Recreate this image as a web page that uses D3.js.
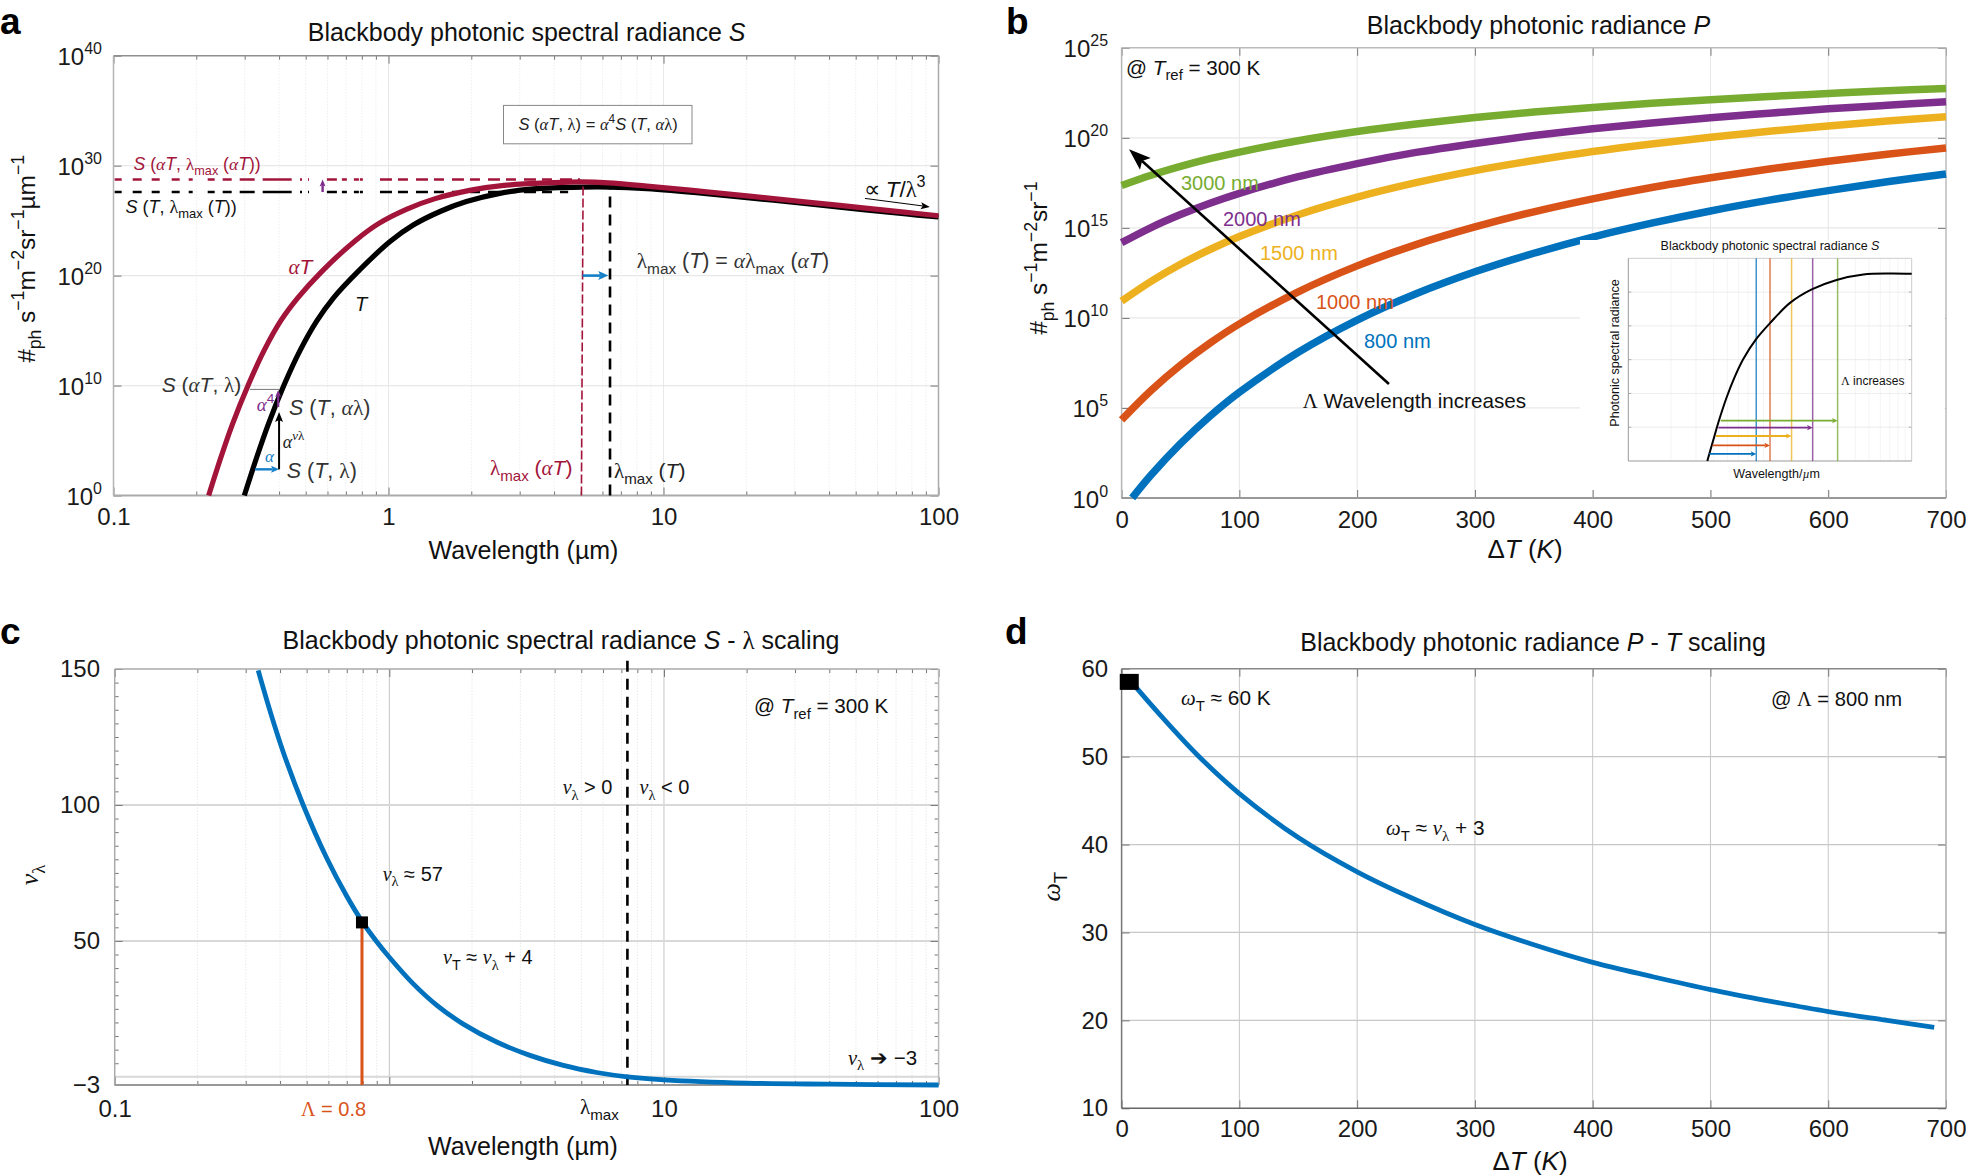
<!DOCTYPE html>
<html><head><meta charset="utf-8">
<script src="https://cdnjs.cloudflare.com/ajax/libs/d3/7.8.5/d3.min.js"></script>
<style>html,body{margin:0;padding:0;background:#fff}svg{display:block}text{font-family:"Liberation Sans",Arial,sans-serif}</style>
</head><body><svg id="c" width="1966" height="1175"></svg>
<script>
// ---------- Panel a: wavelength (um) and log10 radiance
const aBlackWave=[0.299,0.332,0.366,0.417,0.4766,0.548,0.63,0.766,1.013,1.23,1.54,1.92,2.54,3.36,5.11,6.39,8.69,14.35,25.1,43.7,76.4,100];
const aBlackLog=[0,3.5,6.52,10.05,13.18,15.86,17.96,20.25,23.1,24.6,25.83,26.73,27.48,27.88,28.05,28.05,27.9,27.45,26.85,26.23,25.6,25.33];
const aRedWave=[0.2218,0.246,0.271,0.309,0.353,0.406,0.467,0.568,0.759,0.923,1.167,1.479,1.972,2.63,3.98,5.01,6.31,8.69,14.35,25.1,43.7,76.4,100];
const aRedLog=[0,3.5,6.52,10.05,13.2,15.9,17.95,20.3,23.2,24.75,26.05,27,27.75,28.2,28.45,28.52,28.44,28.14,27.62,27,26.38,25.75,25.44];
const aXTicks=[0.1,1,10,100];
const aYTicks=[0,10,20,30,40];
const logMinor=[0.2,0.3,0.4,0.5,0.6,0.7,0.8,0.9,2,3,4,5,6,7,8,9,20,30,40,50,60,70,80,90];
// ---------- Panel b: temperature rise (K) and log10 radiance per wavelength
const dT=[0,25,50,75,100,150,200,250,300,350,400,450,500,550,600,650,700];
const bWavelengths=["3000 nm","2000 nm","1500 nm","1000 nm","800 nm"];
const b3000=[17.35,17.92,18.41,18.84,19.21,19.84,20.35,20.77,21.13,21.43,21.69,21.92,22.12,22.30,22.46,22.61,22.74];
const b2000=[14.18,15.02,15.74,16.37,16.92,17.84,18.57,19.19,19.69,20.13,20.51,20.83,21.12,21.37,21.61,21.81,22.0];
const b1500=[10.93,12.03,12.98,13.80,14.52,15.73,16.71,17.51,18.18,18.74,19.24,19.66,20.03,20.37,20.66,20.93,21.17];
const b1000=[4.34,5.97,7.38,8.60,9.67,11.45,12.89,14.07,15.05,15.89,16.61,17.24,17.78,18.27,18.70,19.09,19.44];
const b800dT=[9,25,50,75,100,150,200,250,300,350,400,450,500,550,600,650,700];
const b800=[0.01,1.28,3.02,4.54,5.87,8.09,9.88,11.34,12.56,13.59,14.49,15.26,15.94,16.54,17.07,17.56,17.99];
const bXTicks=[0,100,200,300,400,500,600,700];
const bYTicks=[0,5,10,15,20,25];
// ---------- Panel b inset
const insetWave=[0.361,0.398,0.432,0.494,0.557,0.648,0.796,1.0,1.384,1.97,2.95,4.56,7.03,10];
const insetVal=[0,3.1,5.7,9.4,12.2,15.1,18.0,20.4,23.4,25.4,26.8,27.6,27.75,27.7];
const insetLines=[0.8,1,1.42,2,3];
const insetArrowStart=[0.373,0.394,0.415,0.432,0.449];
const insetArrowLevel=[1.04,2.3,3.7,4.93,5.97];
// ---------- Panel c
const cWave=[0.333,0.368,0.411,0.486,0.592,0.70,0.795,0.90,1.0,1.22,1.49,1.86,2.46,3.25,4.3,5.69,7.36,10,20,40,100];
const cNu=[149.5,134.5,119.4,99.9,80.4,66.4,57.2,49.7,44,34.3,26.3,19.4,12.8,7.9,4.2,1.6,0,-1.1,-2.3,-2.7,-3];
const cYTicks=[-3,50,100,150];
const cGrid=[0,50,100];
const cXLabels=[0.1,10,100];
const cMarker=[0.795,56.8];
// ---------- Panel d
const dDelta=[7,35,65,100,150,200,245,300,350,400,450,500,550,600,650,690];
const dOmega=[58.7,54.4,50.1,45.8,40.8,36.9,34,30.9,28.6,26.6,25,23.5,22.2,21,20,19.2];
const dYTicks=[10,20,30,40,50,60];
const dMarker=[6.5,58.5];

const BLUE="#0072BD",ORANGE="#D95319",YELLOW="#EDB120",PURPLE="#7E2F8E",GREEN="#77AC30",RED="#A3143A";
const svg=d3.select("#c");
const F=(k)=>d3.format("")(k);

function rich(x,y,runs,o={}){
  const size=o.size||18;
  const t=svg.append("text").attr("x",x).attr("y",y).attr("font-size",size)
    .attr("fill",o.fill||"#222").attr("text-anchor",o.anchor||"start");
  if(o.rot) t.attr("transform",`rotate(${o.rot} ${x} ${y})`).attr("letter-spacing",o.ls||0);
  let off=0;
  runs.forEach(r=>{
    const [s,k="",col]=typeof r==="string"?[r]:r;
    const sp=t.append("tspan").text(s);
    let tgt=0,fs=size;
    if(k.includes("_")){tgt=size*0.28;fs=size*0.72;}
    if(k.includes("^")){tgt=-size*0.42;fs=size*0.72;}
    sp.attr("dy",tgt-off).attr("font-size",fs); off=tgt;
    if(k.includes("i")) sp.attr("font-style","italic");
    if(k.includes("g")) sp.style("font-family","'Liberation Serif',serif");
    if(col) sp.attr("fill",col);
  });
  return t;
}
function arrow(x1,y1,x2,y2,col,w,hl,hw){
  const a=Math.atan2(y2-y1,x2-x1),c=Math.cos(a),s=Math.sin(a);
  const bx=x2-c*hl*0.8,by=y2-s*hl*0.8;
  svg.append("line").attr("x1",x1).attr("y1",y1).attr("x2",bx).attr("y2",by).attr("stroke",col).attr("stroke-width",w);
  const p=[[x2,y2],[x2-c*hl-s*hw,y2-s*hl+c*hw],[bx,by],[x2-c*hl+s*hw,y2-s*hl-c*hw]];
  svg.append("path").attr("d","M"+p.join("L")+"Z").attr("fill",col);
}
function seg(x1,y1,x2,y2,col,w,dash,g){
  const l=(g||svg).append("line").attr("x1",x1).attr("y1",y1).attr("x2",x2).attr("y2",y2).attr("stroke",col).attr("stroke-width",w);
  if(dash) l.attr("stroke-dasharray",dash);
  return l;
}
function curve(xs,ys,X,Y,col,w){
  const pts=xs.map((v,i)=>[X(v),Y(ys[i])]);
  return svg.append("path").attr("d",d3.line().curve(d3.curveCatmullRom.alpha(0.5))(pts)).attr("fill","none").attr("stroke",col).attr("stroke-width",w);
}
function frame(X,Y,o){
  const [l,r]=X.range(),[b,t]=Y.range();
  (o.xMinorGrid||[]).forEach(v=>seg(X(v),b,X(v),t,o.minorCol||"#e9e9e9",1,"1.5 1.5"));
  (o.xGrid||[]).forEach(v=>seg(X(v),b,X(v),t,o.xGridCol||"#dcdcdc",1));
  (o.yGrid||[]).forEach(v=>seg(l,Y(v),r,Y(v),o.yGridCol||"#e8e8e8",o.yGridW||1.2));
  const tk=(ax,tr)=>{const g=svg.append("g").attr("transform",tr).call(ax);
    g.select(".domain").remove();g.selectAll("line").attr("stroke",o.tickCol||"#777");return g;};
  const mk=(gen,vals,len,pad)=>gen.tickValues(vals).tickSize(-len).tickPadding(pad||0).tickFormat("");
  if(o.xMinor){tk(mk(d3.axisBottom(X),o.xMinor,4),`translate(0,${b})`);tk(mk(d3.axisTop(X),o.xMinor,4),`translate(0,${t})`);}
  if(o.yMinor){tk(mk(d3.axisLeft(Y),o.yMinor,4),`translate(${l},0)`);tk(mk(d3.axisRight(Y),o.yMinor,4),`translate(${r},0)`);}
  tk(mk(d3.axisTop(X),o.xTicks,8),`translate(0,${t})`);
  tk(mk(d3.axisRight(Y),o.yTicks,8),`translate(${r},0)`);
  const gx=tk(d3.axisBottom(X).tickValues(o.xTicks).tickSize(-8).tickPadding(o.xPad).tickFormat(v=>(o.xLabels&&!o.xLabels.includes(v))?"":F(v)),`translate(0,${b})`);
  gx.selectAll("text").attr("font-size",24).attr("fill","#1a1a1a").style("font-family","'Liberation Sans'");
  const gy=tk(d3.axisLeft(Y).tickValues(o.yTicks).tickSize(-8).tickPadding(o.yPad).tickFormat(o.yFmt||(v=>v<0?"\u2212"+(-v):F(v))),`translate(${l},0)`);
  gy.selectAll("text").attr("font-size",24).attr("fill","#1a1a1a").style("font-family","'Liberation Sans'");
  if(o.yExp){
    gy.selectAll("text").each(function(v){
      const el=d3.select(this).attr("dy",null).text("");
      el.append("tspan").text("10").attr("dy",9);
      el.append("tspan").text(Math.log10(v).toFixed(0)).attr("font-size",16).attr("dy",-11);
    });
  }
  seg(l,t,r,t,o.frT||"#8f8f8f",1.5);seg(r,t,r,b,o.frR||"#aaa",1.5);
  seg(l,t,l,b,o.frL||"#b5b5b5",1.5);seg(l,b,r,b,o.frB||"#aaa",o.frBW||2);
}
function exp10(arr){return arr.map(v=>Math.pow(10,v));}
const TITLE=25,AXL=25;

// ================= Panel a =================
const ax=d3.scaleLog().domain([0.1,100]).range([113.5,938.5]);
const ay=d3.scaleLog().domain([1,1e40]).range([495.5,55.7]);
frame(ax,ay,{xMinorGrid:logMinor,minorCol:"#eeeeee",xGrid:[1,10],xGridCol:"#e8e8e8",yGrid:[1e10,1e20,1e30],xMinor:logMinor,xTicks:aXTicks,
  yTicks:aYTicks.map(v=>Math.pow(10,v)),yExp:true,xPad:12.5,yPad:11.5});
const aL=(v)=>Math.pow(10,v);
[[28.75,RED,4.97],[27.6,"#000",4.5]].forEach(([lv,col,end])=>{
  const yy=ay(aL(lv));
  seg(ax(0.101),yy,ax(0.4457),yy,col,2.5,"7 11 9 10 8 12 8 9 4 15 7 8 9 8 15 8 29");
  seg(ax(0.4766),yy,ax(0.514),yy,col,2.5,"2 6 2");
  seg(ax(0.597),yy,ax(0.8356),yy,col,2.5,"10 5 5 7 5 1 3");
  seg(ax(0.931),yy,ax(end),yy,col,2.5,"12 6 10 8");
});
curve(aBlackWave,exp10(aBlackLog),ax,ay,"#000",5.2);
curve(aRedWave,exp10(aRedLog),ax,ay,RED,5.2);
seg(ax(5.03),ay(1),ax(5.1),ay(aL(28.3)),RED,1.6,"9 3");
seg(ax(6.39),ay(1),ax(6.39),ay(aL(28)),"#000",2.6,"11 7");
arrow(ax(5.08),ay(1e20),ax(6.3),ay(1e20),"#1580C8",2.6,10,4.5);
arrow(ax(0.576),ay(aL(27.6)),ax(0.576),ay(aL(28.75)),PURPLE,2.4,7,3);
seg(ax(0.3133),ay(aL(9.65)),ax(0.4),ay(aL(9.65)),"#777",1);
arrow(ax(0.327),ay(aL(2.38)),ax(0.4),ay(aL(2.38)),"#1580C8",2.4,8,3.5);
arrow(ax(0.4),ay(aL(2.38)),ax(0.4),ay(aL(7.6)),"#000",2,10,4);
arrow(ax(0.397),ay(aL(8.05)),ax(0.397),ay(aL(9.6)),PURPLE,2.2,7,3);
arrow(ax(54),ay(aL(27.02)),ax(93),ay(aL(26.25)),"#000",1,9,3.5);

rich(526.6,40.6,["Blackbody photonic spectral radiance ",["S","i"]],{size:TITLE,anchor:"middle",fill:"#111"});
rich(523.5,559,["Wavelength (µm)"],{size:AXL,anchor:"middle",fill:"#111"});
rich(34.5,363,[["#","i"],["ph","_"]," s",["−1","^"],"m",["−2","^"],"sr",["−1","^"],"µm",["−1","^"]],{size:24.5,rot:-90,fill:"#111"});
svg.append("rect").attr("x",503.5).attr("y",105.4).attr("width",188.5).attr("height",38.4).attr("fill","#fff").attr("stroke","#888").attr("stroke-width",1);
const G=(s,c)=>[s,"gi",c];
rich(518.5,130,[["S","i"]," (",G("α"),["T","i"],", ",["λ","g"],") = ",G("α"),["4","^"],["S","i"]," (",["T","i"],", ",G("α"),["λ","g"],")"],{size:16.5});
rich(133.5,170,[["S","i"]," (",G("α"),["T","i"],", ",["λ","g"],["max","_"]," (",G("α"),["T","i"],"))"],{size:17.6,fill:RED});
rich(125.4,212.6,[["S","i"]," (",["T","i"],", ",["λ","g"],["max","_"]," (",["T","i"],"))"],{size:18,fill:"#111"});
rich(288.4,274,[G("α"),["T","i"]],{size:21,fill:RED});
rich(355,310.7,[["T","i"]],{size:20,fill:"#111"});
rich(161.7,391.7,[["S","i"]," (",G("α"),["T","i"],", ",["λ","g"],")"],{size:21,fill:"#333"});
rich(289,415,[["S","i"]," (",["T","i"],", ",G("α"),["λ","g"],")"],{size:21.5,fill:"#333"});
rich(286.7,478,[["S","i"]," (",["T","i"],", ",["λ","g"],")"],{size:21.5,fill:"#333"});
rich(282.7,448,[G("α"),["ν","gi^"],["λ","g^"]],{size:18,fill:"#222"});
rich(265,461.7,[G("α")],{size:17,fill:"#1580C8"});
rich(256.7,411,[G("α"),["4","^"]],{size:19,fill:PURPLE});
rich(636.7,268,[["λ","g"],["max","_"]," (",["T","i"],") = ",G("α"),["λ","g"],["max","_"]," (",G("α"),["T","i"],")"],{size:21.4,fill:"#333"});
rich(864,196.7,[["∝ ","g"],["T","i"],"/",["λ","g"],["3","^"]],{size:22.5,fill:"#111"});
rich(490,475,[["λ","g"],["max","_"]," (",G("α"),["T","i"],")"],{size:21,fill:RED});
rich(614,478,[["λ","g"],["max","_"]," (",["T","i"],")"],{size:21,fill:"#222"});
rich(0,33.5,["a"],{size:37,fill:"#000"}).attr("font-weight","bold");

// ================= Panel b =================
const bx=d3.scaleLinear().domain([0,700]).range([1121.6,1946]);
const by=d3.scaleLog().domain([1,1e25]).range([498,47.8]);
frame(bx,by,{xGrid:bXTicks.slice(1,-1),xGridCol:"#e6e6e6",yGrid:[1e5,1e10,1e15,1e20],xTicks:bXTicks,yTicks:bYTicks.map(v=>Math.pow(10,v)),
  yExp:true,xPad:12.6,yPad:13.5,frT:"#bbb",frR:"#bbb",frB:"#999"});
[[b3000,GREEN],[b2000,PURPLE],[b1500,YELLOW],[b1000,ORANGE]].forEach(([d,c])=>curve(dT,exp10(d),bx,by,c,7.5));
curve(b800dT,exp10(b800),bx,by,BLUE,7.5);
svg.append("rect").attr("x",1580).attr("y",240).attr("width",365).attr("height",250).attr("fill","#fff");
arrow(bx(227),by(aL(6.33)),bx(6.3),by(aL(19.37)),"#000",2.6,22,8);
rich(1538.5,34,["Blackbody photonic radiance ",["P","i"]],{size:TITLE,anchor:"middle",fill:"#111"});
rich(1525,558,["Δ",["T","i"]," (",["K","i"],")"],{size:26,anchor:"middle",fill:"#111"});
rich(1047,335,[["#","i"],["ph","_"]," s",["−1","^"],"m",["−2","^"],"sr",["−1","^"]],{size:24.5,rot:-90,fill:"#111"});
rich(1126,74.5,["@  ",["T","i"],["ref","_"]," = 300 K"],{size:20.7,fill:"#111"});
const bLabelX=[1181,1223,1260,1316,1364],bLabelY=[190,225.8,260.4,308.6,348];
[GREEN,PURPLE,YELLOW,ORANGE,BLUE].forEach((c,i)=>rich(bLabelX[i],bLabelY[i],[bWavelengths[i]],{size:20,fill:c}));
rich(1302.7,408,[["Λ","g"]," Wavelength increases"],{size:20.7,fill:"#111"});
rich(1006,33.5,["b"],{size:37,fill:"#000"}).attr("font-weight","bold");
const ix=d3.scaleLog().domain([0.1,10]).range([1628.3,1911.7]);
const iy=d3.scaleLinear().domain([0,30]).range([461,258.3]);
[0.2,0.3,0.4,0.5,0.6,0.7,0.8,0.9,1,2,3,4,5,6,7,8,9].forEach(v=>seg(ix(v),iy(0),ix(v),iy(30),"#f1f1f1",0.8));
[5,10,15,20,25].forEach(v=>{seg(ix(0.1),iy(v),ix(10),iy(v),"#e8e8e8",0.8);seg(ix(0.1),iy(v),ix(0.1)+3,iy(v),"#999",0.8);seg(ix(10),iy(v),ix(10)-3,iy(v),"#999",0.8);});
seg(ix(0.1),iy(30),ix(10),iy(30),"#ccc",1);seg(ix(10),iy(0),ix(10),iy(30),"#ccc",1);
seg(ix(0.1),iy(0),ix(0.1),iy(30),"#999",1);seg(ix(0.1),iy(0),ix(10),iy(0),"#999",1.2);
const iCols=[BLUE,ORANGE,YELLOW,PURPLE,GREEN];
insetLines.forEach((v,i)=>seg(ix(v),iy(30),ix(v),iy(0),iCols[i],1.5).attr("opacity",0.75));
curve(insetWave,insetVal,ix,iy,"#000",2);
insetLines.forEach((v,i)=>arrow(ix(insetArrowStart[i]),iy(insetArrowLevel[i]),ix(v),iy(insetArrowLevel[i]),iCols[i],1.8,5.5,2.6));
rich(1770,250,["Blackbody photonic spectral radiance ",["S","i"]],{size:12.5,anchor:"middle",fill:"#111"});
rich(1776.7,478,["Wavelength/",["µ","gi"],"m"],{size:12.5,anchor:"middle",fill:"#111"});
rich(1619,353,["Photonic spectral radiance"],{size:12.5,anchor:"middle",rot:-90,fill:"#111"});
rich(1841,385,[["Λ","g"]," increases"],{size:12,fill:"#111"});

// ================= Panel c =================
const cx=d3.scaleLog().domain([0.1,100]).range([114.7,938.6]);
const cy=d3.scaleLinear().domain([-3,150]).range([1085,669]);
const cMinorY=d3.range(5,150,5).filter(v=>v%50);
frame(cx,cy,{xMinorGrid:logMinor,xGrid:[1,10],xGridCol:"#c4c4c4",yGrid:cGrid,yGridCol:"#d8d8d8",yGridW:2,xMinor:logMinor,yMinor:cMinorY,
  xTicks:aXTicks,xLabels:cXLabels,yTicks:cYTicks,xPad:15,yPad:14.7,frT:"#aaa",frR:"#bbb",frL:"#aaa",frB:"#999"});
seg(cx(cMarker[0]),cy(-3),cx(cMarker[0]),cy(cMarker[1]),ORANGE,3);
seg(cx(7.36),cy(153),cx(7.36),cy(-3),"#000",2.6,"11 7");
curve(cWave,cNu,cx,cy,BLUE,4.8);
svg.append("rect").datum(cMarker).attr("x",d=>cx(d[0])-6).attr("y",d=>cy(d[1])-6).attr("width",12).attr("height",12).attr("fill","#000");
rich(561,649,["Blackbody photonic spectral radiance ",["S","i"]," - ",["λ","g"]," scaling"],{size:TITLE,anchor:"middle",fill:"#111"});
rich(523,1155,["Wavelength (µm)"],{size:AXL,anchor:"middle",fill:"#111"});
rich(38,875,[["ν","gi"],["λ","g_"]],{size:26,rot:-90,anchor:"middle",fill:"#111"});
rich(754,713,["@  ",["T","i"],["ref","_"]," = 300 K"],{size:20.7,fill:"#111"});
const nl=[["ν","gi"],["λ","g_"]];
rich(562.7,794.3,[...nl," > 0"],{size:20,fill:"#111"});
rich(639.5,794.3,[...nl," < 0"],{size:20,fill:"#111"});
rich(382.7,880.7,[...nl," ≈ 57"],{size:20,fill:"#111"});
rich(443,964.3,[["ν","gi"],["T","_"]," ≈ ",...nl," + 4"],{size:20,fill:"#111"});
rich(848,1064.6,[...nl," ➔ −3"],{size:20.5,fill:"#111"});
rich(301,1116,[["Λ","g"]," = 0.8"],{size:20,fill:ORANGE});
rich(580,1114,[["λ","g"],["max","_"]],{size:21,fill:"#111"});
rich(0,644,["c"],{size:37,fill:"#000"}).attr("font-weight","bold");

// ================= Panel d =================
const dx=d3.scaleLinear().domain([0,700]).range([1121.6,1946]);
const dy=d3.scaleLinear().domain([10,60]).range([1108.3,668.7]);
frame(dx,dy,{xGrid:bXTicks.slice(1,-1),xGridCol:"#c8c8c8",yGrid:[20,30,40,50],yGridCol:"#c8c8c8",yGridW:1.2,xTicks:bXTicks,yTicks:dYTicks,
  xPad:12,yPad:13.5,frT:"#888",frR:"#aaa",frL:"#777",frB:"#666",frBW:1.5,tickCol:"#777"});
curve(dDelta,dOmega,dx,dy,BLUE,4.8);
svg.append("rect").datum(dMarker).attr("x",d=>dx(d[0])-9.5).attr("y",d=>dy(d[1])-8).attr("width",19).attr("height",16).attr("fill","#000");
rich(1533,651,["Blackbody photonic radiance ",["P","i"]," - ",["T","i"]," scaling"],{size:TITLE,anchor:"middle",fill:"#111"});
rich(1530,1170,["Δ",["T","i"]," (",["K","i"],")"],{size:26,anchor:"middle",fill:"#111"});
rich(1060,886.6,[["ω","gi"],["T","_"]],{size:26,rot:-90,anchor:"middle",fill:"#111"});
const om=[["ω","gi"],["T","_"]];
rich(1181,705,[...om," ≈ 60 K"],{size:20.8,fill:"#111"});
rich(1386,835,[...om," ≈ ",...nl," + 3"],{size:20.8,fill:"#111"});
rich(1771,706.4,["@  ",["Λ","g"]," = 800 nm"],{size:20.2,fill:"#111"});
rich(1005,644,["d"],{size:37,fill:"#000"}).attr("font-weight","bold");
</script></body></html>
